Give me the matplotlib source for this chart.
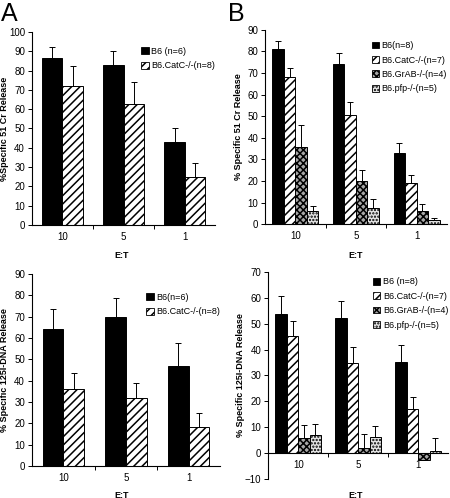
import numpy as np
import matplotlib.pyplot as plt
from matplotlib.patches import Patch

plt.rcParams['font.family'] = ['Liberation Sans', 'DejaVu Sans']
plt.rcParams['hatch.linewidth'] = 1.1

# ================== data ================== #
et_labels = ['10', '5', '1']

# panel A, 51Cr
crA_b6 = [86.5, 83, 43]
crA_b6_err = [5.5, 7, 7.5]
crA_catc = [72, 62.5, 25]
crA_catc_err = [10.5, 11.5, 7]

# panel B, 51Cr
crB_b6 = [81.3, 74, 32.8]
crB_b6_err = [3.6, 5.4, 4.6]
crB_catc = [68, 50.4, 19]
crB_catc_err = [4.2, 6, 3.7]
crB_grab = [35.9, 19.8, 6]
crB_grab_err = [9.8, 5.2, 3.3]
crB_pfp = [6.2, 7.4, 1.8]
crB_pfp_err = [2.2, 4.4, 1.0]

# panel A, 125I-DNA
dnaA_b6 = [64.4, 70, 46.7]
dnaA_b6_err = [9, 8.8, 11.1]
dnaA_catc = [36.1, 31.7, 18.4]
dnaA_catc_err = [7.3, 7, 6.3]

# panel B, 125I-DNA
dnaB_b6 = [53.9, 52.1, 35.4]
dnaB_b6_err = [6.9, 6.8, 6.3]
dnaB_catc = [45.4, 34.9, 16.9]
dnaB_catc_err = [5.6, 6.2, 4.7]
dnaB_grab = [5.9, 1.9, -2.6]
dnaB_grab_err = [5.0, 5.4, 0.0]
dnaB_pfp = [7.1, 6.2, 0.9]
dnaB_pfp_err = [4.2, 4.3, 5.1]

# ================== styles ================== #
styles = [
    dict(facecolor='black', edgecolor='black', hatch=None),
    dict(facecolor='white', edgecolor='black', hatch='////'),
    dict(facecolor='#a8a8a8', edgecolor='black', hatch='xxxxx'),
    dict(facecolor='#e4e4e4', edgecolor='black', hatch='.....'),
]


def draw_panel(ax, series, errs, labels, ylim, yticks, ylabel, groupw, labx, legy):
    x = np.arange(len(et_labels))
    n = len(series)
    w = groupw / n
    for i in range(n):
        st = styles[i]
        pos = x - groupw / 2 + w * (i + 0.5)
        ax.bar(pos, series[i], w, facecolor=st['facecolor'], edgecolor=st['edgecolor'],
               hatch=st['hatch'], linewidth=0.7, zorder=2)
        vals = np.array(series[i])
        up = np.array(errs[i])
        ax.errorbar(pos, vals, yerr=[np.zeros_like(up), up], fmt='none', ecolor='black',
                    elinewidth=0.7, capsize=2.5, capthick=0.7, zorder=3)
    ax.set_xlim(-0.5, len(et_labels) - 0.5)
    ax.set_ylim(*ylim)
    ax.set_yticks(yticks)
    ax.set_xticks(x)
    ax.set_xticklabels(et_labels)
    ax.set_xticks(x[:-1] + 0.5, minor=True)
    ax.tick_params(axis='x', which='major', length=0, labelsize=7, pad=5)
    ax.tick_params(axis='x', which='minor', length=3, direction='out', width=0.7)
    ax.tick_params(axis='y', length=3, direction='out', width=0.7, labelsize=7, pad=2)
    ax.spines['top'].set_visible(False)
    ax.spines['right'].set_visible(False)
    ax.spines['left'].set_linewidth(0.8)
    ax.spines['bottom'].set_linewidth(0.8)
    ax.spines['bottom'].set_position(('data', 0))
    ax.set_ylabel(ylabel, fontsize=6.5, fontweight='bold')
    ax.yaxis.set_label_coords(labx, 0.5)
    handles = [Patch(facecolor=styles[i]['facecolor'], edgecolor='black',
                     hatch=styles[i]['hatch'], linewidth=0.6, label=labels[i])
               for i in range(n)]
    ax.legend(handles=handles, loc='upper right', frameon=False, fontsize=6.5,
              handlelength=0.8, handleheight=0.8, handletextpad=0.3,
              labelspacing=0.6, borderaxespad=0.2, bbox_to_anchor=(1.03, legy))
    return ax


fig = plt.figure(figsize=(4.5, 4.98), dpi=100)

ax1 = fig.add_axes([0.071, 0.548, 0.407, 0.388])
draw_panel(ax1, [crA_b6, crA_catc], [crA_b6_err, crA_catc_err],
           ['B6 (n=6)', 'B6.CatC-/-(n=8)'], (0, 100), np.arange(0, 101, 10),
           '%Specific 51 Cr Release', 0.66, -0.123, 0.95)

ax2 = fig.add_axes([0.589, 0.550, 0.404, 0.390])
draw_panel(ax2, [crB_b6, crB_catc, crB_grab, crB_pfp],
           [crB_b6_err, crB_catc_err, crB_grab_err, crB_pfp_err],
           ['B6(n=8)', 'B6.CatC-/-(n=7)', 'B6.GrAB-/-(n=4)', 'B6.pfp-/-(n=5)'],
           (0, 90), np.arange(0, 91, 10), '% Specific 51 Cr Release', 0.76, -0.121, 0.97)

ax3 = fig.add_axes([0.071, 0.064, 0.418, 0.386])
draw_panel(ax3, [dnaA_b6, dnaA_catc], [dnaA_b6_err, dnaA_catc_err],
           ['B6(n=6)', 'B6.CatC-/-(n=8)'], (0, 90), np.arange(0, 91, 10),
           '% Specific 125I-DNA Release', 0.66, -0.122, 0.93)

ax4 = fig.add_axes([0.596, 0.038, 0.400, 0.416])
draw_panel(ax4, [dnaB_b6, dnaB_catc, dnaB_grab, dnaB_pfp],
           [dnaB_b6_err, dnaB_catc_err, dnaB_grab_err, dnaB_pfp_err],
           ['B6 (n=8)', 'B6.CatC-/-(n=7)', 'B6.GrAB-/-(n=4)', 'B6.pfp-/-(n=5)'],
           (-10, 70), np.arange(-10, 71, 10), '% Specific 125I-DNA Release', 0.76, -0.128, 1.0)

# E:T labels
fig.text(0.27, 1 - 256 / 498, 'E:T', fontsize=6.5, fontweight='bold', ha='center', va='center')
fig.text(0.79, 1 - 256 / 498, 'E:T', fontsize=6.5, fontweight='bold', ha='center', va='center')
fig.text(0.27, 1 - 495 / 498, 'E:T', fontsize=6.5, fontweight='bold', ha='center', va='center')
fig.text(0.79, 1 - 495 / 498, 'E:T', fontsize=6.5, fontweight='bold', ha='center', va='center')

# panel letters
fig.text(0.003, 0.995, 'A', fontsize=18, ha='left', va='top')
fig.text(0.507, 0.995, 'B', fontsize=18, ha='left', va='top')

fig.savefig('out.png', dpi=100)
